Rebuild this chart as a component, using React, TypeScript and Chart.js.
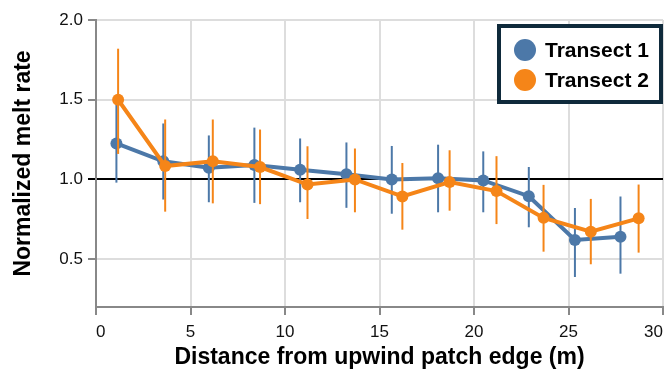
import React, { useEffect, useRef } from "react";
import { Chart, registerables } from "chart.js";

Chart.register(...registerables);

// Transect 1 (distance m, normalized melt rate, error-bar low/high)
const t1X = [1.08, 3.56, 5.97, 8.38, 10.8, 13.25, 15.65, 18.1, 20.49, 22.9, 25.34, 27.75];
const t1Y = [1.226, 1.114, 1.074, 1.09, 1.061, 1.032, 1.0, 1.008, 0.994, 0.895, 0.62, 0.64];
const t1Lo = [0.98, 0.874, 0.857, 0.853, 0.857, 0.822, 0.785, 0.794, 0.794, 0.7, 0.388, 0.409];
const t1Hi = [1.47, 1.351, 1.276, 1.325, 1.257, 1.232, 1.21, 1.218, 1.176, 1.078, 0.821, 0.893];

// Transect 2
const t2X = [1.17, 3.66, 6.18, 8.68, 11.19, 13.7, 16.21, 18.71, 21.19, 23.68, 26.18, 28.71];
const t2Y = [1.5, 1.084, 1.114, 1.078, 0.968, 1.0, 0.893, 0.984, 0.927, 0.759, 0.672, 0.756];
const t2Lo = [1.16, 0.798, 0.85, 0.845, 0.752, 0.794, 0.685, 0.804, 0.72, 0.547, 0.468, 0.541];
const t2Hi = [1.82, 1.376, 1.376, 1.313, 1.208, 1.194, 1.103, 1.183, 1.146, 0.966, 0.878, 0.968];

const seriesNames = ["Transect 1", "Transect 2"];
const yTickValues = [0.5, 1.0, 1.5, 2.0];
const xTitle = "Distance from upwind patch edge (m)";
const yTitle = "Normalized melt rate";

const BLUE = "#4c78a8";
const ORANGE = "#f58518";
const FONT = "'Liberation Sans', Arial, Helvetica, sans-serif";

export default function App() {
  const ref = useRef<HTMLCanvasElement | null>(null);

  useEffect(() => {
    document.body.style.margin = "0";
    const canvas = ref.current;
    if (!canvas) return;

    const errSets = [
      { lo: t1Lo, hi: t1Hi, color: BLUE, xs: t1X },
      { lo: t2Lo, hi: t2Hi, color: ORANGE, xs: t2X },
    ];

    const errorBars = {
      id: "errorBars",
      beforeDatasetDraw(chart: any, args: any) {
        const e = errSets[args.index];
        if (!e) return;
        const { ctx, scales } = chart;
        const xs = scales.x;
        const ys = scales.y;
        ctx.save();
        ctx.strokeStyle = e.color;
        ctx.lineWidth = 2;
        for (let i = 0; i < e.xs.length; i++) {
          const px = xs.getPixelForValue(e.xs[i]);
          ctx.beginPath();
          ctx.moveTo(px, ys.getPixelForValue(e.lo[i]));
          ctx.lineTo(px, ys.getPixelForValue(e.hi[i]));
          ctx.stroke();
        }
        ctx.restore();
      },
    };

    const legendBox = {
      id: "legendBox",
      afterDraw(chart: any) {
        const { ctx, chartArea } = chart;
        const right = chartArea.right;
        const top = chartArea.top;
        const w = 162;
        const h = 76;
        const x0 = right - 2 - w;
        const y0 = top + 6;
        ctx.save();
        ctx.fillStyle = "#ffffff";
        ctx.fillRect(x0, y0, w, h);
        ctx.strokeStyle = "#0f2a3b";
        ctx.lineWidth = 4;
        ctx.strokeRect(x0, y0, w, h);
        const colors = [BLUE, ORANGE];
        ctx.font = `bold 21px ${FONT}`;
        ctx.textBaseline = "middle";
        ctx.textAlign = "left";
        for (let i = 0; i < seriesNames.length; i++) {
          const cy = y0 + 24 + i * 30;
          ctx.fillStyle = colors[i];
          ctx.beginPath();
          ctx.arc(x0 + 26, cy, 11, 0, Math.PI * 2);
          ctx.fill();
          ctx.fillStyle = "#000";
          ctx.fillText(seriesNames[i], x0 + 46, cy + 1);
        }
        ctx.restore();
      },
    };

    const chart = new Chart(canvas, {
      type: "line",
      data: {
        datasets: [
          {
            label: seriesNames[0],
            data: t1X.map((x, i) => ({ x, y: t1Y[i] })),
            borderColor: BLUE,
            backgroundColor: BLUE,
            borderWidth: 4,
            pointRadius: 6,
            pointBorderWidth: 0,
            pointBackgroundColor: BLUE,
            tension: 0,
            order: 2,
          },
          {
            label: seriesNames[1],
            data: t2X.map((x, i) => ({ x, y: t2Y[i] })),
            borderColor: ORANGE,
            backgroundColor: ORANGE,
            borderWidth: 4,
            pointRadius: 6,
            pointBorderWidth: 0,
            pointBackgroundColor: ORANGE,
            tension: 0,
            order: 1,
          },
        ],
      },
      options: {
        responsive: false,
        animation: false,
        layout: { padding: { top: 20, right: 2, bottom: 0, left: 0 } },
        plugins: {
          legend: { display: false },
          tooltip: { enabled: false },
        },
        scales: {
          x: {
            type: "linear",
            min: 0,
            max: 30,
            afterFit(scale: any) {
              scale.height = 63;
            },
            ticks: {
              stepSize: 5,
              align: "inner",
              padding: 7,
              color: "#111",
              font: { family: FONT, size: 17 },
            },
            grid: {
              color: "#dddddd",
              lineWidth: 2,
              tickLength: 8,
              tickColor: "#888",
              drawOnChartArea: true,
            },
            border: { color: "#888", width: 2 },
            title: {
              display: true,
              text: xTitle,
              color: "#000",
              font: { family: FONT, size: 23, weight: "bold", lineHeight: 1 },
              padding: { top: 0, bottom: 1 },
            },
          },
          y: {
            min: 0.2,
            max: 2.0,
            afterFit(scale: any) {
              scale.width = 96;
            },
            afterBuildTicks(scale: any) {
              scale.ticks = yTickValues.map((v) => ({ value: v }));
            },
            ticks: {
              padding: 5,
              color: "#111",
              font: { family: FONT, size: 17 },
              callback: (v: any) => Number(v).toFixed(1),
            },
            grid: {
              color: (c: any) => (c.tick && c.tick.value === 1 ? "#000" : "#dddddd"),
              lineWidth: 2,
              tickLength: 8,
              tickColor: (c: any) => (c.tick && c.tick.value === 1 ? "#000" : "#888"),
            },
            border: { color: "#888", width: 2 },
            title: {
              display: true,
              text: yTitle,
              color: "#000",
              font: { family: FONT, size: 23, weight: "bold", lineHeight: 1 },
              padding: { top: 12.5, bottom: 0 },
            },
          },
        },
      },
      plugins: [errorBars, legendBox],
    } as any);

    return () => chart.destroy();
  }, []);

  return (
    <div style={{ width: 670, height: 370 }}>
      <canvas ref={ref} width={670} height={370} />
    </div>
  );
}
